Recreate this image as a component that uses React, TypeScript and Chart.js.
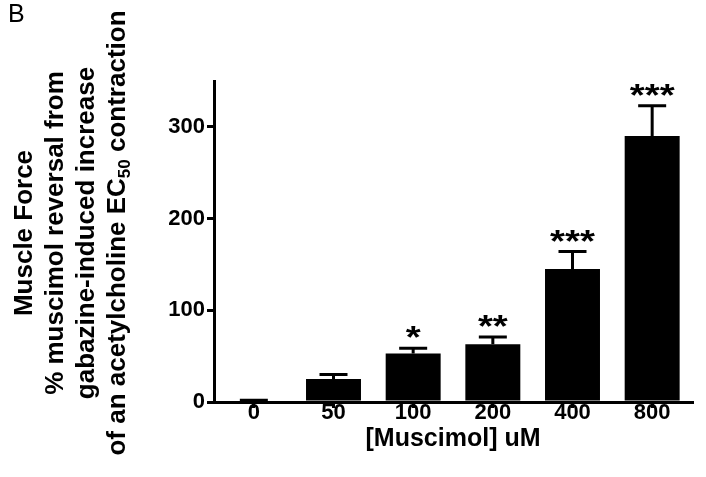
import React, { useEffect, useRef } from "react";
import { Chart, registerables } from "chart.js";

Chart.register(...registerables);

const categories = ["0", "50", "100", "200", "400", "800"];
const means = [0, 25, 53, 63, 145, 290];
const errors = [2, 5, 5.5, 8, 19, 33];
const stars = ["", "", "*", "**", "***", "***"];
const yTicks = [0, 100, 200, 300];

const FONT = "'Liberation Sans', Arial, sans-serif";

const overlayPlugin = {
  id: "overlay",
  afterDatasetsDraw(chart: any) {
    const ctx = chart.ctx;
    const meta = chart.getDatasetMeta(0);
    const y = chart.scales.y;
    ctx.save();
    ctx.strokeStyle = "#000";
    ctx.fillStyle = "#000";
    ctx.lineWidth = 3;
    meta.data.forEach((bar: any, i: number) => {
      const x = bar.x;
      const top = y.getPixelForValue(means[i]);
      const eTop = y.getPixelForValue(means[i] + errors[i]);
      if (errors[i] > 0) {
        ctx.beginPath();
        ctx.moveTo(x, top);
        ctx.lineTo(x, eTop);
        ctx.moveTo(x - 14, eTop);
        ctx.lineTo(x + 14, eTop);
        ctx.stroke();
      }
      if (stars[i]) {
        ctx.save();
        ctx.translate(x, eTop);
        ctx.scale(1.2, 1);
        ctx.font = "bold 32px " + FONT;
        ctx.textAlign = "center";
        ctx.textBaseline = "alphabetic";
        ctx.fillText(stars[i], 0, 0);
        ctx.restore();
      }
    });
    ctx.restore();
  },
  afterDraw(chart: any) {
    const ctx = chart.ctx;
    ctx.save();
    ctx.fillStyle = "#000";
    ctx.font = "25px " + FONT;
    ctx.textAlign = "left";
    ctx.textBaseline = "top";
    ctx.fillText("B", 8, 3);

    // rotated y-axis title
    const cy = 233;
    ctx.translate(0, cy);
    ctx.rotate(-Math.PI / 2);
    ctx.textBaseline = "middle";
    ctx.textAlign = "center";
    const f = "bold 26px " + FONT;
    ctx.font = f;
    ctx.fillText("Muscle Force", 0, 25);
    ctx.fillText("% muscimol reversal from", 0, 56);
    ctx.fillText("gabazine-induced increase", 0, 87);
    // last line with subscript
    const a = "of an acetylcholine EC";
    const sub = "50";
    const b = " contraction";
    const fs = "bold 17px " + FONT;
    ctx.font = f;
    const wa = ctx.measureText(a).width;
    const wb = ctx.measureText(b).width;
    ctx.font = fs;
    const ws = ctx.measureText(sub).width;
    const total = wa + ws + wb;
    const x0 = -total / 2;
    ctx.textAlign = "left";
    ctx.font = f;
    ctx.fillText(a, x0, 118);
    ctx.font = fs;
    ctx.fillText(sub, x0 + wa, 125);
    ctx.font = f;
    ctx.fillText(b, x0 + wa + ws, 118);
    ctx.restore();
  },
};

export default function App() {
  const ref = useRef<HTMLCanvasElement | null>(null);
  useEffect(() => {
    if (!ref.current) return;
    const chart = new Chart(ref.current, {
      type: "bar",
      data: {
        labels: categories,
        datasets: [
          {
            data: means,
            backgroundColor: "#000",
            borderColor: "#000",
            borderWidth: 0,
            barPercentage: 0.69,
            categoryPercentage: 1,
          },
        ],
      },
      options: {
        responsive: false,
        animation: false,
        devicePixelRatio: 1,
        layout: { padding: { left: 134, top: 81, right: 14, bottom: 23 } },
        plugins: {
          legend: { display: false },
          tooltip: { enabled: false },
          title: { display: false },
        },
        scales: {
          x: {
            grid: {
              display: true,
              drawOnChartArea: false,
              drawTicks: true,
              tickLength: 6,
              lineWidth: 3,
              color: "#000",
              offset: false,
            },
            border: { display: true, width: 3, color: "#000" },
            ticks: {
              color: "#000",
              font: { family: FONT, size: 22, weight: "bold" },
              padding: -8,
              maxRotation: 0,
            },
            title: {
              display: true,
              text: "[Muscimol] uM",
              color: "#000",
              font: { family: FONT, size: 25, weight: "bold" },
              padding: { top: 0, bottom: 0 },
            },
            afterFit: (s: any) => {
              s.height = 52;
            },
          },
          y: {
            min: 0,
            max: 350,
            afterBuildTicks: (s: any) => {
              s.ticks = yTicks.map((v) => ({ value: v }));
            },
            grid: {
              display: true,
              drawOnChartArea: false,
              drawTicks: true,
              tickLength: 7,
              lineWidth: 3,
              color: "#000",
            },
            border: { display: true, width: 3, color: "#000" },
            ticks: {
              color: "#000",
              font: { family: FONT, size: 22, weight: "bold" },
              padding: 2,
            },
            afterFit: (s: any) => {
              s.width = 80;
            },
          },
        },
      },
      plugins: [overlayPlugin],
    });
    return () => chart.destroy();
  }, []);
  return (
    <div style={{ position: "fixed", left: 0, top: 0, width: 706, height: 477, background: "#fff" }}>
      <canvas ref={ref} width={706} height={477} />
    </div>
  );
}
